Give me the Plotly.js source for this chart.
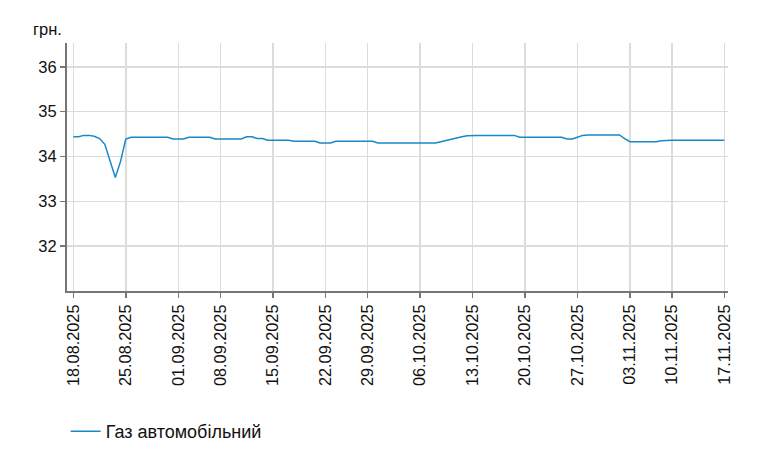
<!DOCTYPE html>
<html>
<head>
<meta charset="utf-8">
<script src="https://cdn.plot.ly/plotly-3.0.1.min.js"></script>
<style>
  html, body { margin: 0; padding: 0; background: #fff; }
  #chart { width: 771px; height: 461px; }
</style>
</head>
<body>
<div id="chart"></div>
<script>
// week start labels (ticks) and how many readings fall in each week
var weekLabels = ['18.08.2025', '25.08.2025', '01.09.2025', '08.09.2025', '15.09.2025',
  '22.09.2025', '29.09.2025', '06.10.2025', '13.10.2025', '20.10.2025',
  '27.10.2025', '03.11.2025', '10.11.2025', '17.11.2025']
var pointsPerWeek = [10, 10, 8, 10, 10, 8, 10, 10, 10, 10, 10, 8, 10]

// price of autogas, UAH
var gasPrice = [
  34.44, 34.44, 34.47, 34.47, 34.45, 34.40, 34.27, 33.90, 33.53, 33.89,
  34.39, 34.43, 34.43, 34.43, 34.43, 34.43, 34.43, 34.43, 34.43, 34.39,
  34.39, 34.39, 34.43, 34.43, 34.43, 34.43, 34.43, 34.39, 34.39, 34.39,
  34.39, 34.39, 34.39, 34.44, 34.44, 34.40, 34.40, 34.36, 34.36, 34.36,
  34.36, 34.36, 34.34, 34.34, 34.34, 34.34, 34.34, 34.30, 34.30, 34.30,
  34.34, 34.34, 34.34, 34.34, 34.34, 34.34, 34.34, 34.34, 34.30, 34.30,
  34.30, 34.30, 34.30, 34.30, 34.30, 34.30, 34.30, 34.30, 34.30, 34.30,
  34.33, 34.36, 34.39, 34.42, 34.44, 34.46, 34.47, 34.47, 34.47, 34.47,
  34.47, 34.47, 34.47, 34.47, 34.47, 34.43, 34.43, 34.43, 34.43, 34.43,
  34.43, 34.43, 34.43, 34.43, 34.39, 34.39, 34.43, 34.47, 34.48, 34.48,
  34.48, 34.48, 34.48, 34.48, 34.48, 34.40, 34.33, 34.33, 34.33, 34.33,
  34.33, 34.33, 34.35, 34.36, 34.36, 34.36, 34.36, 34.36, 34.36, 34.36,
  34.36, 34.36, 34.36, 34.36, 34.36
]
var yTicks = [32, 33, 34, 35, 36]

var xIdx = gasPrice.map(function(v, i) { return i })
var tickPos = [0]
pointsPerWeek.forEach(function(n) { tickPos.push(tickPos[tickPos.length - 1] + n) })

var font = 'Liberation Sans, Arial, sans-serif'

var trace = {
  x: xIdx,
  y: gasPrice,
  mode: 'lines',
  type: 'scatter',
  name: 'Газ автомобільний',
  line: {color: '#1a87c9', width: 1.5}
}

var layout = {
  width: 771,
  height: 461,
  margin: {t: 43, r: 43, b: 169, l: 67},
  paper_bgcolor: '#fff',
  plot_bgcolor: '#fff',
  font: {family: font, size: 16, color: '#111'},
  showlegend: true,
  legend: {
    orientation: 'h',
    x: -0.002, xanchor: 'left',
    y: -0.56, yanchor: 'middle',
    font: {size: 18, color: '#111'}
  },
  xaxis: {
    range: [-1.2, 124.68],
    tickmode: 'array',
    tickvals: tickPos,
    ticktext: weekLabels,
    tickangle: -90,
    ticks: 'outside',
    ticklen: 5,
    tickwidth: 1.5,
    tickcolor: '#767676',
    showline: true,
    linecolor: '#767676',
    linewidth: 2,
    showgrid: true,
    gridcolor: '#dcdcdc',
    gridwidth: 1.5,
    zeroline: false,
    tickfont: {size: 16.3}
  },
  yaxis: {
    range: [31, 36.53],
    tickmode: 'array',
    tickvals: yTicks,
    ticks: 'outside',
    ticklen: 5,
    tickwidth: 1.5,
    tickcolor: '#767676',
    showline: true,
    linecolor: '#767676',
    linewidth: 2,
    showgrid: true,
    gridcolor: '#dcdcdc',
    gridwidth: 1.5,
    zeroline: false,
    tickfont: {size: 16.5}
  },
  annotations: [{
    text: 'грн.',
    xref: 'paper', yref: 'paper',
    x: -0.029, y: 1.012,
    xanchor: 'center', yanchor: 'bottom',
    showarrow: false,
    font: {size: 16.5, color: '#111'}
  }]
}

Plotly.newPlot('chart', [trace], layout, {displayModeBar: false, staticPlot: true})
</script>
</body>
</html>
